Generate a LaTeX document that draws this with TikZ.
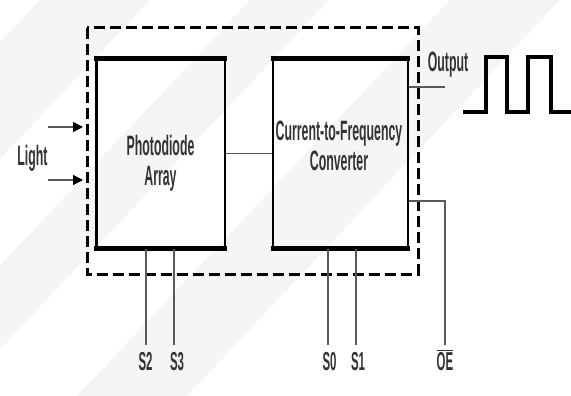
\documentclass[tikz,border=0pt]{standalone}
\usepackage{fontspec}
\setmainfont{Liberation Sans}
\newfontfamily\narrow[FakeStretch=0.44]{Liberation Sans Bold}
\usetikzlibrary{arrows.meta}
\begin{document}
\begin{tikzpicture}[x=1pt,y=-1pt,
  blk/.style={draw=black, line width=2.2pt, inner sep=0pt, minimum width=#1, minimum height=187.5pt},
  thickedge/.style={line width=4.8pt, line cap=butt},
  wire/.style={draw=black!65, line width=1.2pt},
  lbl/.style={inner sep=0pt, font=\narrow\fontsize{28}{30}\selectfont, text=black!80},
  pinlbl/.style={inner sep=0pt, font=\narrow\fontsize{26}{28}\selectfont, text=black!80, anchor=base},
  band/.style={fill=black!4, draw=none},
  lightarrow/.style={draw=black!65, line width=1.4pt, -{Triangle[length=10pt,width=10pt,black]}}
]
\useasboundingbox (0,0) rectangle (571,396);
% faint background bands
\fill[band] (40,0) -- (150,0) -- (-223,396) -- (-333,396) -- cycle;
\fill[band] (250,0) -- (329,0) -- (-44,396) -- (-123,396) -- cycle;
\fill[band] (450,0) -- (560,0) -- (187,396) -- (77,396) -- cycle;

% dashed enclosure
\draw[line width=3pt, dash pattern=on 11pt off 5pt] (87,28) rectangle (418,274);

% blocks
\node[blk=128.5pt] (pd) at (160.75,153.75) {};
\node[blk=135pt] (cf) at (340.5,153.75) {};
\draw[thickedge] ([xshift=-1.1pt]pd.north west) -- ([xshift=1.1pt]pd.north east);
\draw[thickedge] ([xshift=-1.1pt]pd.south west) -- ([xshift=1.1pt]pd.south east);
\draw[thickedge] ([xshift=-1.1pt]cf.north west) -- ([xshift=1.1pt]cf.north east);
\draw[thickedge] ([xshift=-1.1pt]cf.south west) -- ([xshift=1.1pt]cf.south east);

\node[lbl, align=center] (pdt) at (160.5,163) {Photodiode\\Array};
\node[lbl, align=center] (cft) at (339,146) {Current-to-Frequency\\Converter};

% link between blocks
\draw[wire] (pd.east) -- (cf.east -| cf.west);

% light input
\coordinate (l1) at (48,127);
\coordinate (l2) at (48,180);
\coordinate (l1e) at (83,127);
\coordinate (l2e) at (83,180);
\draw[lightarrow] (l1) -- (l1e);
\draw[lightarrow] (l2) -- (l2e);
\node[lbl, anchor=base] (light) at (32.5,165) {Light};

% output
\coordinate (outA) at (cf.east |- 0,87);
\coordinate (outB) at (445,87);
\draw[wire] (outA) -- (outB);
\node[lbl, anchor=base] (outlbl) at (448,72) {Output};

% waveform
\coordinate (w0) at (463,112);
\coordinate (w1) at (486,112);
\coordinate (w2) at (486,57);
\coordinate (w3) at (507,57);
\coordinate (w4) at (507,112);
\coordinate (w5) at (528,112);
\coordinate (w6) at (528,57);
\coordinate (w7) at (551,57);
\coordinate (w8) at (551,112);
\coordinate (w9) at (573,112);
\draw[line width=4.5pt, line join=miter] (w0) -- (w1) -- (w2) -- (w3) -- (w4) -- (w5) -- (w6) -- (w7) -- (w8) -- (w9);

% OE
\node[pinlbl] (oe) at (445,370) {$\overline{\mbox{OE}}$};
\coordinate (oeA) at (cf.east |- 0,201);
\coordinate (oeB) at (445,201);
\coordinate (oeC) at (445,345);
\draw[wire] (oeA) -- (oeB) -- (oeC);

% select pins
\node[pinlbl] (s2) at (145.5,370) {S2};
\node[pinlbl] (s3) at (177,370) {S3};
\node[pinlbl] (s0) at (329.5,370) {S0};
\node[pinlbl] (s1) at (358,370) {S1};
\coordinate (s2e) at (146,345);
\coordinate (s3e) at (174,345);
\coordinate (s0e) at (328,345);
\coordinate (s1e) at (356,345);
\draw[wire] (s2e |- pd.south) -- (s2e);
\draw[wire] (s3e |- pd.south) -- (s3e);
\draw[wire] (s0e |- cf.south) -- (s0e);
\draw[wire] (s1e |- cf.south) -- (s1e);
\end{tikzpicture}
\end{document}
